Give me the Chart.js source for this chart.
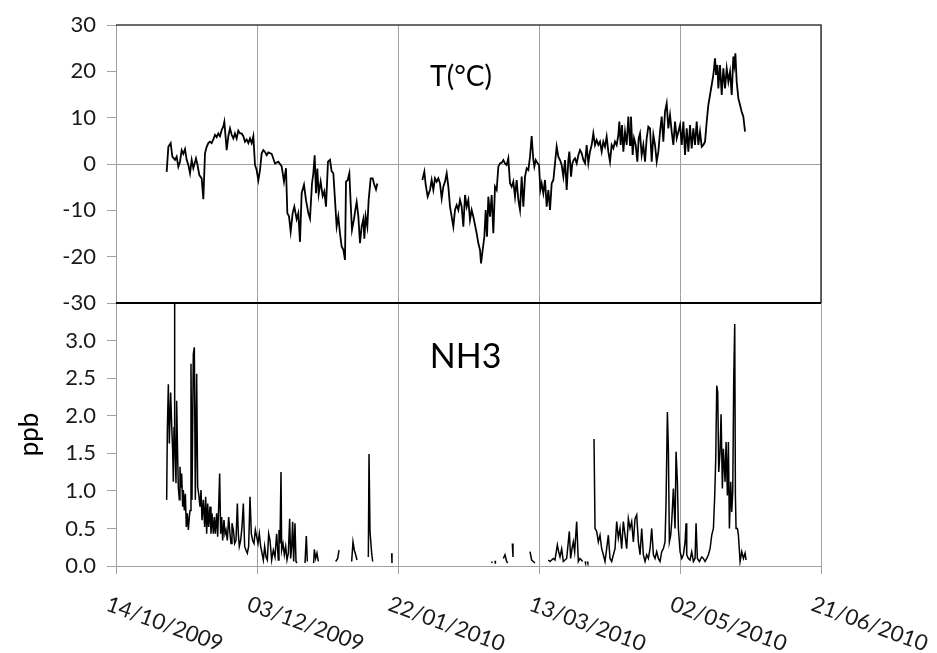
<!DOCTYPE html>
<html><head><meta charset="utf-8">
<script src="https://cdn.jsdelivr.net/npm/chart.js@4.4.0/dist/chart.umd.min.js"></script>
<style>html,body{margin:0;padding:0;background:#fff;}canvas{display:block;}</style>
</head><body>
<canvas id="c" width="937" height="653"></canvas>
<script>
// x axis: days since 14/10/2009
const xTickDays = [0, 49, 98, 147, 196, 245];
const xTickLabels = ['14/10/2009', '03/12/2009', '22/01/2010', '13/03/2010', '02/05/2010', '21/06/2010'];
const tempTicks = [-30, -20, -10, 0, 10, 20, 30];
const nh3Ticks = [0, 0.5, 1, 1.5, 2, 2.5, 3, 3.5];

// Temperature (°C)
const tempDays = [
17.61,18.19,19.00,19.58,20.50,21.08,21.66,22.24,22.82,23.40,23.98,24.56,25.14,25.72,26.30,26.87,27.80,28.26,28.96,29.77,
30.35,30.93,31.51,32.09,32.67,33.25,33.82,34.40,34.98,35.56,36.14,36.72,37.30,37.65,38.23,38.46,39.04,39.62,40.20,40.78,
41.35,41.93,42.51,43.09,43.67,44.25,44.83,45.41,45.99,46.57,47.15,47.73,48.30,48.88,49.46,50.04,50.62,51.20,51.78,52.36,52.94,
54.10,55.25,56.41,57.57,58.38,59.08,59.54,60.12,60.70,61.39,61.97,62.78,63.36,63.94,64.52,65.33,66.03,66.84,67.42,68.11,
68.58,69.04,69.50,69.97,70.43,71.12,71.82,72.40,72.98,73.67,74.37,74.95,75.53,76.11,76.68,77.26,77.84,78.42,79.00,79.58,
79.93,80.51,81.09,81.55,82.01,82.71,83.17,83.64,84.22,84.79,85.37,85.95,86.30,86.76,87.34,87.80,88.50,89.19,89.77,90.35,90.82,
98.5,
106.46,107.16,107.63,108.31,109.12,109.70,110.28,110.86,111.44,112.02,
112.60,113.18,113.76,114.34,114.92,115.50,116.07,116.65,117.23,117.81,
118.39,118.97,119.55,120.13,120.71,121.29,121.87,122.44,123.02,123.60,
124.18,124.76,125.34,125.92,126.50,126.85,127.43,128.01,128.47,128.93,
129.39,129.97,130.55,131.13,131.71,132.29,132.87,133.45,134.03,134.61,
135.18,135.76,136.34,136.92,137.50,138.08,138.66,139.24,139.82,140.40,
140.98,141.56,142.14,142.72,143.30,143.88,144.45,145.03,145.38,145.85,
146.54,147.01,147.47,147.93,148.51,149.09,149.67,150.25,150.83,151.41,
151.99,152.56,153.14,153.72,154.30,154.88,155.46,156.04,156.62,157.20,
157.55,158.13,158.59,159.06,159.52,160.10,160.68,161.26,161.84,162.42,
163.00,
163.56,164.14,164.72,165.30,165.88,166.46,167.04,167.62,168.20,168.78,
169.35,169.93,170.51,171.09,171.67,172.25,172.83,173.41,173.99,174.57,
174.92,175.38,175.84,176.31,176.89,177.47,178.05,178.63,178.97,179.55,
180.02,180.60,181.18,181.64,182.11,182.68,183.26,183.84,184.42,185.00,
185.58,186.16,186.74,187.32,187.90,188.48,189.06,189.64,190.21,190.79,
191.37,191.95,192.53,193.11,193.69,194.27,194.85,195.43,196.01,196.59,
197.17,197.75,198.33,198.91,199.48,200.06,200.64,201.22,201.80,202.38,
202.96,203.54,204.12,204.70,205.28,205.85,206.43,207.01,207.59,208.17,
208.52,208.98,209.33,209.91,210.49,211.07,211.65,212.23,212.81,213.39,
213.97,214.54,214.89,215.24,215.70,216.28,216.86,217.44,218.02,218.60
];
const tempValues = [
-1.7,3.7,4.5,1.6,0.9,1.6,-0.6,0.5,3.0,2.2,3.2,0.9,-0.2,-2.0,0.9,-0.9,1.2,0,-2.4,-3.1,
-7.6,2.3,3.7,4.5,4.8,4.5,5.3,6.3,5.8,6.6,6.0,7.3,8.1,9.1,4.8,3.0,6.0,7.7,6.3,5.5,
6.6,5.5,7.2,6.6,6.6,6.0,4.8,5.3,4.5,5.5,4.5,6.0,-0.2,-1.3,-3.5,-1.3,2.3,3.0,2.6,1.9,2.5,
2.2,0.1,0.5,-0.5,-3.8,-0.9,-10.6,-11.3,-14.6,-10.6,-9.2,-11.9,-10.6,-16.8,-6.3,-4.5,-7.8,-10.6,-11.8,-4.2,
-2.0,1.9,-6.3,-1.0,-6.5,-3.8,-6.9,-5.9,-9.2,0.5,0.9,-1.6,-2.0,-7.8,-13.5,-11.3,-15.0,-17.8,-18.5,-20.7,
-3.8,-3.5,-2.0,-8.4,-14.2,-11.9,-9.9,-8.2,-11.3,-17.1,-13.5,-11.9,-16.1,-11.3,-13.5,-7.8,-3.1,-3.1,-4.5,-5.5,-4.2,
null,
-3.45,-1.65,-4.53,-7.05,-5.61,-3.45,-5.61,-3.09,-3.81,-3.09,
-4.17,-7.41,-4.89,-3.81,-2.01,-4.89,-9.21,-11.37,-13.53,-9.93,
-8.85,-9.93,-7.77,-9.21,-13.53,-6.69,-9.21,-7.77,-12.09,-9.93,
-11.37,-13.17,-14.96,-17.12,-18.56,-21.44,-18.56,-15.68,-9.93,-15.68,
-7.05,-11.37,-6.69,-14.96,-4.89,-5.61,-0.58,0.14,0.29,0.86,
0.14,-0.22,1.22,-4.17,-4.89,-3.81,-7.05,-3.45,-7.77,-9.93,
-2.73,-9.21,-2.73,-0.94,-1.29,1.58,6.04,0.86,-0.58,0.86,
0.14,-0.22,-5.61,-4.17,-6.33,-3.45,-9.21,-5.61,-9.93,-4.17,
-3.45,0.14,3.74,1.58,0.86,-0.22,-2.73,0.86,-5.61,0.86,
2.66,-2.73,0.14,0.86,1.22,0.14,1.94,3.02,2.30,0.86,
0.14,
4.10,0.14,2.66,4.10,6.62,4.10,5.18,4.10,4.82,2.66,
4.82,3.74,5.90,2.66,0.50,4.10,3.38,4.82,4.10,6.26,
9.14,4.10,8.42,2.66,6.98,4.10,10.22,4.10,10.22,1.94,
5.54,4.10,0.50,5.54,6.62,1.94,4.10,0.50,5.54,8.06,
7.70,0.50,6.26,4.10,0.50,2.66,6.98,10.22,4.82,11.29,
13.09,7.70,10.58,6.98,4.10,9.14,5.54,6.98,8.42,4.10,
9.14,1.94,7.70,2.66,8.42,3.38,7.70,4.10,9.14,4.10,
6.98,3.74,4.10,4.82,9.14,12.73,14.89,17.05,19.21,22.81,
19.21,21.37,16.33,21.37,14.89,20.65,16.33,20.65,17.77,19.93,
14.89,23.17,21.37,23.88,17.77,14.17,12.73,11.29,10.22,6.98
];

// NH3 (ppb)
const nh3Days = [
17.61,17.84,18.19,18.53,19.00,19.34,19.69,19.92,20.16,20.27,20.50,20.85,21.08,21.43,21.66,22.01,22.24,22.59,22.82,23.17,
23.40,23.75,24.10,24.44,24.79,25.14,25.48,25.72,26.06,26.41,26.87,27.22,27.57,28.03,28.38,28.73,29.19,29.54,29.89,30.35,
30.81,31.16,31.51,31.86,32.20,32.67,33.01,33.36,33.82,34.17,34.52,34.98,35.33,35.68,36.02,36.37,36.72,37.07,37.53,37.88,
38.23,38.69,39.15,39.62,39.97,40.31,40.78,41.24,41.70,42.17,42.51,42.86,43.32,43.79,44.25,44.71,45.18,45.64,46.10,46.57,
47.03,47.49,47.96,48.42,48.88,49.35,49.81,50.27,50.74,51.20,51.66,52.13,52.59,53.05,53.52,54.10,54.68,55.25,55.83,56.41,
56.64,56.99,57.34,57.57,58.03,58.50,58.96,59.42,59.89,60.35,60.70,61.05,61.39,61.74,62.20,62.55,62.90,
64.0,65.68,66.14,66.49,
67.5,68.69,68.93,69.39,69.85,70.32,
73.0,76.34,77.04,77.50,
80.0,81.90,82.36,82.82,83.29,83.75,
86.0,87.69,87.93,88.27,88.85,89.20,
92.0,95.80,95.91,
110.0,130.55,130.70,
131.2,131.71,131.85,
133.0,134.60,135.18,135.76,136.11,
137.0,137.73,137.96,
140.0,143.87,144.45,145.60,
148.0,150.24,150.82,151.98,152.56,153.37,153.83,154.30,154.88,155.46,156.61,157.54,158.00,158.47,158.93,159.39,160.09,160.67,161.25,162.18,
162.6,162.99,163.15,
163.5,163.80,163.95,
165.0,
166.12,166.47,167.05,167.62,168.20,168.78,169.36,169.94,170.52,171.10,171.68,172.26,172.84,173.42,174.00,174.58,175.15,175.73,176.31,176.89,
177.47,178.05,178.63,179.21,179.79,180.37,180.95,181.53,182.11,182.69,183.27,183.85,184.43,185.01,185.59,186.17,186.75,187.32,187.90,188.48,
189.06,189.64,190.22,190.80,191.15,191.62,191.96,192.31,192.77,193.12,193.70,194.28,194.63,195.09,195.44,196.02,196.60,197.18,197.76,198.10,
198.34,198.91,199.49,200.07,200.65,201.23,201.58,202.04,202.74,203.55,204.13,204.71,205.29,205.87,206.45,207.03,207.61,208.07,208.42,208.77,
209.11,209.46,209.92,210.27,210.73,211.08,211.66,212.01,212.47,212.82,213.17,213.63,213.98,214.33,214.67,215.02,215.25,215.48,215.95,216.30,
216.88,217.46,218.04,218.61,218.96
];
const nh3Values = [
0.88,1.80,2.42,1.63,2.31,1.89,1.54,1.12,1.85,3.90,1.76,1.10,2.20,1.45,1.05,0.88,1.32,1.05,1.23,0.79,
1.01,0.74,0.96,0.52,0.70,0.48,0.65,0.74,2.69,0.88,2.82,2.91,0.88,2.56,1.05,0.96,0.79,1.01,0.61,0.88,
0.52,0.92,0.43,0.83,0.52,0.79,0.43,0.70,0.43,0.65,0.43,0.70,0.39,0.79,1.23,0.43,0.65,0.34,0.61,0.43,
0.48,0.34,0.65,0.43,0.30,0.57,0.48,0.30,0.34,0.83,0.43,0.26,0.34,0.52,0.83,0.26,0.21,0.17,0.26,0.92,
0.43,0.34,0.30,0.48,0.39,0.30,0.43,0.26,0.17,0.08,0.26,0.12,0.08,0.43,0.34,0.08,0.21,0.12,0.43,0.08,
0.48,0.30,1.25,0.21,0.30,0.15,0.26,0.08,0.17,0.63,0.10,0.26,0.59,0.06,0.57,0.06,0.04,
null,0.04,0.40,0.06,
null,0.04,0.22,0.10,0.17,0.06,
null,0.06,0.10,0.21,
null,0.06,0.32,0.21,0.15,0.08,
null,0.12,1.49,0.46,0.17,0.06,
null,0.17,0.04,
null,0.04,0.06,
null,0.07,0.03,
null,0.10,0.15,0.06,0.04,
null,0.30,0.12,
null,0.19,0.08,0.04,
null,0.08,0.06,0.10,0.08,0.28,0.19,0.12,0.23,0.06,0.10,0.46,0.10,0.23,0.32,0.19,0.59,0.06,0.10,0.06,
null,0.06,0.04,
null,0.06,0.04,
null,
1.69,0.50,0.46,0.32,0.41,0.23,0.15,0.06,0.23,0.41,0.10,0.06,0.15,0.23,0.59,0.37,0.50,0.23,0.59,0.41,
0.23,0.63,0.50,0.59,0.32,0.63,0.68,0.32,0.15,0.50,0.15,0.06,0.15,0.10,0.23,0.50,0.15,0.10,0.19,0.10,
0.06,0.19,0.23,0.32,0.85,2.05,1.56,0.32,0.41,0.59,1.03,0.50,1.52,1.12,0.50,0.19,0.10,0.15,0.32,0.57,
0.15,0.10,0.08,0.19,0.06,0.10,0.57,0.10,0.06,0.12,0.10,0.06,0.10,0.15,0.23,0.41,0.50,0.94,1.43,2.40,
2.31,1.25,1.52,2.02,1.03,1.56,1.12,1.65,0.94,1.65,0.50,1.12,0.72,0.99,2.49,3.22,0.94,0.50,0.50,0.41,
0.06,0.19,0.10,0.17,0.08
];

const FONT = 'Lato, "Open Sans", sans-serif';
const GRID = '#a0a0a0';
const TXT = '#1a1a1a';
const toPoints = (d, v) => d.map((x, i) => ({x: x, y: v[i]}));

const decor = {
  id: 'decor',
  beforeDatasetDraw(chart, args) {
    if (args.index === 1) {
      const a = chart.chartArea, s = chart.scales.yN, c = chart.ctx;
      c.save(); c.beginPath(); c.rect(a.left, s.top, a.right - a.left, s.bottom - s.top); c.clip();
    }
  },
  afterDatasetDraw(chart, args) { if (args.index === 1) chart.ctx.restore(); },
  afterDraw(chart) {
    const c = chart.ctx, a = chart.chartArea, yT = chart.scales.yT, yN = chart.scales.yN, x = chart.scales.x;
    c.save();
    c.strokeStyle = '#3a3a3a'; c.lineWidth = 1.5;
    c.beginPath(); c.moveTo(a.left, yT.top); c.lineTo(a.right, yT.top); c.lineTo(a.right, yT.bottom); c.stroke();
    c.strokeStyle = '#000'; c.lineWidth = 2;
    c.beginPath(); c.moveTo(a.left, yT.bottom); c.lineTo(a.right, yT.bottom); c.stroke();
    // x tick labels, rotated clockwise
    c.font = '22px ' + FONT; c.fillStyle = TXT; c.textAlign = 'left'; c.textBaseline = 'top';
    xTickDays.forEach((d, i) => {
      const px = x.getPixelForValue(d);
      c.save(); c.translate(px - 5, a.bottom + 27); c.rotate(20 * Math.PI / 180);
      c.fillText(xTickLabels[i], 0, 0); c.restore();
    });
    // panel labels
    c.textAlign = 'center'; c.textBaseline = 'middle'; c.fillStyle = '#000';
    c.font = '28px ' + FONT;
    c.fillText('T(°C)', x.getPixelForValue(119.9), yT.getPixelForValue(18.7));
    c.font = '34px ' + FONT;
    c.fillText('NH3', x.getPixelForValue(121.5), yN.getPixelForValue(2.78));
    c.restore();
  }
};

new Chart(document.getElementById('c'), {
  type: 'line',
  data: {
    datasets: [
      {label: 'T', data: toPoints(tempDays, tempValues), yAxisID: 'yT', borderColor: '#000', borderWidth: 1.8,
       pointRadius: 0, tension: 0, spanGaps: false, fill: false},
      {label: 'NH3', data: toPoints(nh3Days, nh3Values), yAxisID: 'yN', borderColor: '#000', borderWidth: 1.5,
       pointRadius: 0, tension: 0, spanGaps: false, fill: false}
    ]
  },
  options: {
    responsive: false, animation: false, devicePixelRatio: 1,
    layout: {padding: {top: 25, right: 116, left: 0, bottom: 0}},
    plugins: {legend: {display: false}, tooltip: {enabled: false}},
    scales: {
      x: {
        type: 'linear', min: 0, max: 245,
        afterBuildTicks: s => { s.ticks = xTickDays.map(v => ({value: v})); },
        ticks: {display: false},
        grid: {color: GRID, tickColor: GRID, tickLength: 8, lineWidth: 1},
        border: {color: GRID},
        afterFit: s => { s.height = 87; }
      },
      yN: {
        type: 'linear', position: 'left', stack: 'v', stackWeight: 263, min: 0, max: 3.5,
        afterBuildTicks: s => { s.ticks = nh3Ticks.map(v => ({value: v})); },
        ticks: {autoSkip: false, callback: v => (v >= 3.5 ? '' : v.toFixed(1)), font: {family: FONT, size: 22}, color: TXT, padding: 11},
        grid: {color: 'transparent', tickColor: GRID, tickLength: 9},
        border: {color: GRID},
        title: {display: true, text: 'ppb', font: {family: FONT, size: 26}, color: '#000', padding: {top: 14, bottom: 0}},
        afterFit: s => { s.width = 116; }
      },
      yT: {
        type: 'linear', position: 'left', stack: 'v', stackWeight: 278, min: -30, max: 30,
        afterBuildTicks: s => { s.ticks = tempTicks.map(v => ({value: v})); },
        ticks: {autoSkip: false, callback: v => String(v), font: {family: FONT, size: 22}, color: TXT, padding: 11},
        grid: {color: ctx => (ctx.tick && ctx.tick.value === 0 ? GRID : 'transparent'), tickColor: GRID, tickLength: 9},
        border: {color: GRID},
        afterFit: s => { s.width = 116; }
      }
    }
  },
  plugins: [decor]
});
</script>
</body></html>
